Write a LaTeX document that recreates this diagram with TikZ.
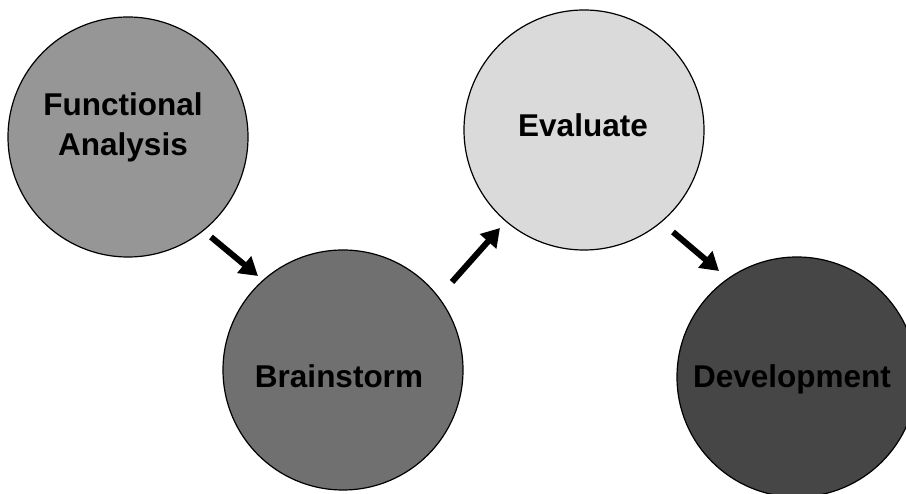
\documentclass[tikz,border=0pt]{standalone}
\usepackage{fontspec}
\setmainfont{Liberation Sans}
\usetikzlibrary{arrows.meta}
\begin{document}
\begin{tikzpicture}[x=1pt,y=-1pt,
  bubble/.style={circle,draw=black,line width=1.2pt,minimum size=240pt,inner sep=0pt},
  lbl/.style={font=\bfseries\fontsize{31.5}{40}\selectfont,align=center,inner sep=0pt,text=black},
  flow/.style={line width=6pt,-{Triangle[width=21pt,length=18pt]}}]
\useasboundingbox[fill=white] (0,0) rectangle (906,494);
\node[bubble,fill={rgb,255:red,150;green,150;blue,150}] (c1) at (128,137) {};
\node[bubble,fill={rgb,255:red,112;green,112;blue,112}] (c2) at (343,370) {};
\node[bubble,fill={rgb,255:red,218;green,218;blue,218}] (c3) at (584,130) {};
\node[bubble,fill={rgb,255:red,70;green,70;blue,70}] (c4) at (797,377) {};
\node[lbl,anchor=center] (t1) at (123,127) {Functional\\Analysis};
\node[lbl,anchor=base] (t2) at (339,388) {Brainstorm};
\node[lbl,anchor=base] (t3) at (583,137) {Evaluate};
\node[lbl,anchor=base] (t4) at (792,388) {Development};
\coordinate (a1s) at (211,237);
\coordinate (a1e) at (258,276);
\coordinate (a2s) at (452,282);
\coordinate (a2e) at (500,228);
\coordinate (a3s) at (673,232);
\coordinate (a3e) at (719,271);
\draw[flow] (a1s) -- (a1e);
\draw[flow] (a2s) -- (a2e);
\draw[flow] (a3s) -- (a3e);
\end{tikzpicture}
\end{document}
